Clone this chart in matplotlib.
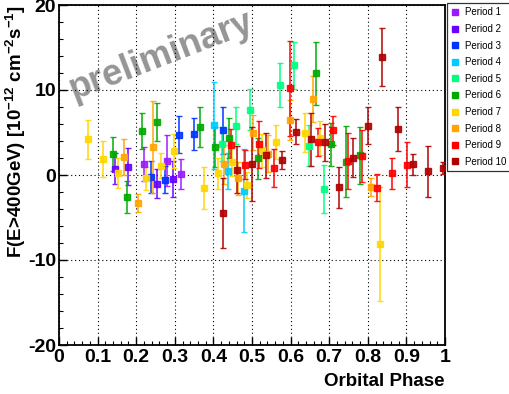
import matplotlib
matplotlib.use("Agg")
import matplotlib.pyplot as plt
from matplotlib.lines import Line2D
from matplotlib.ticker import MultipleLocator

plt.rcParams['font.family'] = ['Liberation Sans', 'DejaVu Sans']
plt.rcParams['axes.unicode_minus'] = False
plt.rcParams['mathtext.fontset'] = 'custom'
plt.rcParams['mathtext.bf'] = 'Liberation Sans:bold'
plt.rcParams['mathtext.rm'] = 'Liberation Sans:bold'

labels = ["Period 1", "Period 2", "Period 3", "Period 4", "Period 5",
          "Period 6", "Period 7", "Period 8", "Period 9", "Period 10"]
colors = ["#9a1aff", "#6a00ff", "#0033ff", "#00ccff", "#00ff80",
          "#00aa00", "#ffd700", "#ffa500", "#ff0000", "#b00000"]

p1_x = [0.220, 0.281, 0.317]
p1_y = [1.25, 1.7, 0.1]
p1_e = [2.0, 3.0, 1.75]

p2_x = [0.145, 0.180, 0.254, 0.295]
p2_y = [0.75, 1.0, -1.0, -0.5]
p2_e = [1.85, 2.2, 1.7, 2.1]

p3_x = [0.239, 0.275, 0.310, 0.349, 0.426]
p3_y = [-0.2, -0.55, 4.75, 4.8, 5.25]
p3_e = [1.9, 1.6, 2.15, 1.9, 2.75]

p4_x = [0.401, 0.439, 0.478]
p4_y = [5.85, 0.47, -1.85]
p4_e = [5.15, 2.1, 4.9]

p5_x = [0.422, 0.459, 0.496, 0.572, 0.610, 0.648, 0.686]
p5_y = [3.7, 5.8, 7.7, 10.55, 12.9, 3.45, -1.65]
p5_e = [2.0, 2.2, 2.4, 2.6, 2.8, 2.4, 2.85]

p6_x = [0.139, 0.177, 0.215, 0.253, 0.366, 0.404, 0.440, 0.516, 0.667, 0.704, 0.744, 0.780]
p6_y = [2.5, -2.55, 5.2, 6.2, 5.65, 3.3, 4.35, 1.96, 11.95, 3.6, 1.57, 2.3]
p6_e = [2.0, 1.9, 2.1, 2.25, 2.4, 2.3, 2.4, 2.45, 3.7, 2.5, 4.2, 3.3]

p7_x = [0.076, 0.113, 0.152, 0.226, 0.263, 0.298, 0.375, 0.413, 0.448, 0.487,
        0.525, 0.562, 0.637, 0.675, 0.832]
p7_y = [4.2, 1.9, 0.2, -0.4, 1.1, 2.8, -1.5, 0.2, 1.57, -1.2, 2.9, 3.9, 5.0, 4.4, -8.15]
p7_e = [2.3, 2.1, 1.75, 1.4, 1.5, 2.0, 2.45, 1.8, 1.7, 1.5, 1.9, 2.0, 2.25, 2.0, 6.7]

p8_x = [0.168, 0.205, 0.243, 0.428, 0.465, 0.503, 0.542, 0.598, 0.657, 0.807]
p8_y = [2.1, -3.3, 3.25, 1.25, -0.4, 5.0, 2.5, 6.5, 8.95, -1.4]
p8_e = [2.1, 1.05, 5.4, 2.3, 1.9, 2.1, 2.2, 2.35, 2.7, 1.05]

p9_x = [0.446, 0.483, 0.519, 0.556, 0.598, 0.672, 0.709, 0.748, 0.786, 0.824, 0.863, 0.902]
p9_y = [3.5, 1.2, 3.6, 0.82, 10.2, 3.85, 5.25, 1.7, 2.2, -1.5, 0.2, 1.2]
p9_e = [1.95, 1.7, 2.75, 2.2, 5.6, 1.65, 1.75, 3.3, 3.05, 1.6, 1.8, 2.65]

p10_x = [0.424, 0.460, 0.500, 0.536, 0.577, 0.615, 0.654, 0.690, 0.725, 0.762,
         0.800, 0.838, 0.878, 0.918, 0.956, 0.996]
p10_y = [-4.47, 0.63, 1.3, 2.3, 1.76, 5.1, 4.2, 3.85, -1.45, 2.04, 5.8, 13.9, 5.45, 1.25, 0.43, 0.8]
p10_e = [4.1, 2.8, 4.35, 2.6, 1.1, 1.5, 3.1, 2.15, 2.45, 2.3, 2.2, 3.4, 2.6, 1.25, 3.0, 0.7]

series = [(p1_x, p1_y, p1_e), (p2_x, p2_y, p2_e), (p3_x, p3_y, p3_e),
          (p4_x, p4_y, p4_e), (p5_x, p5_y, p5_e), (p6_x, p6_y, p6_e),
          (p7_x, p7_y, p7_e), (p8_x, p8_y, p8_e), (p9_x, p9_y, p9_e),
          (p10_x, p10_y, p10_e)]

fig = plt.figure(figsize=(5.10, 3.94), dpi=100)
ax = fig.add_axes([59/510, 1-345/394, 386/510, 340/394])

for (x, y, e), c in zip(series, colors):
    ax.errorbar(x, y, yerr=e, fmt='s', color=c, ecolor=c, elinewidth=1.2,
                capsize=2.2, capthick=1.0, markersize=5, alpha=0.9, zorder=3)

ax.set_xlim(0, 1)
ax.set_ylim(-20, 20)
ax.xaxis.set_minor_locator(MultipleLocator(0.02))
ax.yaxis.set_minor_locator(MultipleLocator(2))
ax.set_xticks([i/10 for i in range(11)])
ax.set_xticklabels(["0", "0.1", "0.2", "0.3", "0.4", "0.5", "0.6", "0.7", "0.8", "0.9", "1"])
ax.set_yticks([-20, -10, 0, 10, 20])
ax.set_yticklabels(["-20", "-10", "0", "10", "20"])
ax.tick_params(which='both', direction='in', top=False, right=False)
ax.tick_params(which='major', length=6, width=1)
ax.tick_params(which='minor', length=3, width=0.8)
ax.tick_params(axis='x', which='major', labelsize=14, pad=3)
ax.tick_params(axis='y', which='major', labelsize=14, pad=2)
for lab in ax.get_xticklabels() + ax.get_yticklabels():
    lab.set_fontweight('bold')
ax.grid(True, which='major', color='black', linestyle=(0, (1, 2.5)), linewidth=0.8)
for s in ax.spines.values():
    s.set_linewidth(1.3)

ax.text(0.265, 14.0, "preliminary", fontsize=26, fontweight='bold', color='#959595',
        rotation=21, ha='center', va='center', zorder=1)

fig.text(16/510, 1-5/394,
         r"F(E>400GeV) [10$^{-12}$ cm$^{-2}$s$^{-1}$]",
         rotation=90, ha='center', va='top', fontsize=13.5, fontweight='bold')
fig.text(445/510, 1-381/394, "Orbital Phase", ha='right', va='center',
         fontsize=13.5, fontweight='bold')

handles = [Line2D([], [], marker='s', linestyle='none', color=c, markersize=4) for c in colors]
leg = fig.legend(handles, labels, loc='upper left', bbox_to_anchor=(447/510, 1-3/394),
                 fontsize=7, frameon=True, fancybox=False, edgecolor='black',
                 handlelength=0.8, handletextpad=0.6, labelspacing=0.68,
                 borderpad=0.45, borderaxespad=0)
leg.get_frame().set_linewidth(0.9)

fig.savefig("out.png", dpi=100)
